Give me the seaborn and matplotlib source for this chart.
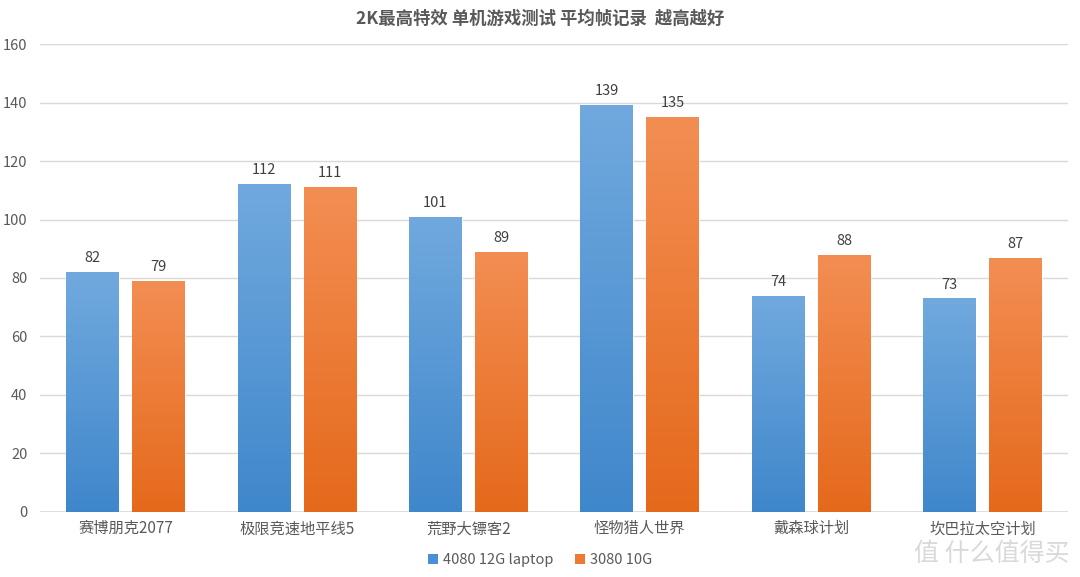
import numpy as np
import pandas as pd
import matplotlib
matplotlib.use("Agg")
import matplotlib.pyplot as plt
import seaborn as sns
from matplotlib.colors import LinearSegmentedColormap
from matplotlib.patches import Patch

categories = ["赛博朋克2077", "极限竞速地平线5", "荒野大镖客2", "怪物猎人世界", "戴森球计划", "坎巴拉太空计划"]
series_names = ["4080 12G laptop", "3080 10G"]
values_4080 = [82, 112, 101, 139, 74, 73]
values_3080 = [79, 111, 89, 135, 88, 87]
title = "2K最高特效 单机游戏测试 平均帧记录  越高越好"

df = pd.DataFrame({
    "game": categories * 2,
    "card": [series_names[0]] * len(categories) + [series_names[1]] * len(categories),
    "fps": values_4080 + values_3080,
})

sns.set_theme(style="white")
plt.rcParams['font.family'] = ['Noto Sans CJK SC', 'DejaVu Sans']

fig = plt.figure(figsize=(10.8, 5.77), dpi=100)
ax = fig.add_axes([0.037, 0.1127, 0.952, 0.811])

top_cols = {"4080 12G laptop": "#71a9de", "3080 10G": "#f38e53"}
bot_cols = {"4080 12G laptop": "#3f87cb", "3080 10G": "#e5691b"}

sns.barplot(data=df, x="game", y="fps", hue="card", hue_order=series_names,
            order=categories, palette=top_cols, width=0.77, gap=0.2,
            ax=ax, legend=False, saturation=1)

ax.set_ylim(0, 160)
ax.set_yticks(np.arange(0, 161, 20))
ax.set_xlim(-0.5, len(categories) - 0.5)
ax.yaxis.grid(True, color="#d9d9d9", linewidth=1)
ax.set_axisbelow(True)
for s in ax.spines.values():
    s.set_visible(False)
ax.axhline(0, color="#d9d9d9", linewidth=1.2, zorder=1)
ax.set_xlabel("")
ax.set_ylabel("")
ax.tick_params(axis="both", length=0, labelcolor="#595959")
ax.tick_params(axis="y", pad=9, labelsize=10.5)
ax.tick_params(axis="x", pad=6, labelsize=11)

# gradient fill per bar
grad = np.linspace(1, 0, 256).reshape(-1, 1)
for i, container in enumerate(ax.containers):
    name = series_names[i]
    cmap = LinearSegmentedColormap.from_list(name, [bot_cols[name], top_cols[name]])
    for p in container.patches:
        x0, y0 = p.get_x(), p.get_y()
        w, h = p.get_width(), p.get_height()
        p.set_facecolor("none")
        p.set_edgecolor("#ffffff")
        p.set_linewidth(0.6)
        im = ax.imshow(grad, extent=[x0, x0 + w, y0, y0 + h], cmap=cmap,
                       aspect="auto", zorder=2, origin="upper", vmin=0, vmax=1)
        im.set_clip_path(p)
    ax.bar_label(container, fmt="%d", padding=5, fontsize=10.5, color="#404040")

ax.set_xlim(-0.5, len(categories) - 0.5)
ax.set_ylim(0, 160)

fig.text(0.5, 0.968, title, ha="center", va="center", fontsize=12.5,
         fontweight="bold", color="#595959")

# legend
handles = [Patch(facecolor="#4a90d6", edgecolor="none"),
           Patch(facecolor="#ec7a30", edgecolor="none")]
fig.legend(handles, series_names, loc="center", bbox_to_anchor=(0.5, 0.029),
           ncol=2, frameon=False, fontsize=10.5, handlelength=0.7, handleheight=0.7,
           handletextpad=0.3, columnspacing=1.5, labelcolor="#595959")

# watermark
fig.text(0.99, 0.04, "值 什么值得买", ha="right", va="center", fontsize=18,
         color="#d0d0d0", alpha=0.8)

fig.savefig("out.png", dpi=100)
